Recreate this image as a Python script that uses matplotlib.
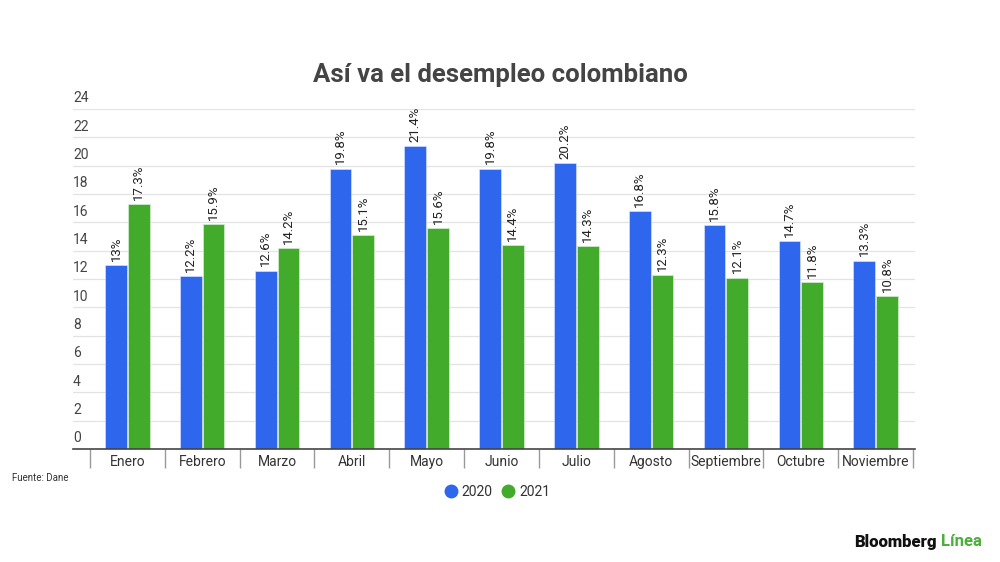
import numpy as np
import matplotlib
matplotlib.use('Agg')
import matplotlib.pyplot as plt
from matplotlib.lines import Line2D

# data
meses = ['Enero', 'Febrero', 'Marzo', 'Abril', 'Mayo', 'Junio', 'Julio',
         'Agosto', 'Septiembre', 'Octubre', 'Noviembre']
v2020 = [13.0, 12.2, 12.6, 19.8, 21.4, 19.8, 20.2, 16.8, 15.8, 14.7, 13.3]
v2021 = [17.3, 15.9, 14.2, 15.1, 15.6, 14.4, 14.3, 12.3, 12.1, 11.8, 10.8]
lab2020 = ['13%', '12.2%', '12.6%', '19.8%', '21.4%', '19.8%', '20.2%', '16.8%', '15.8%', '14.7%', '13.3%']
lab2021 = ['17.3%', '15.9%', '14.2%', '15.1%', '15.6%', '14.4%', '14.3%', '12.3%', '12.1%', '11.8%', '10.8%']
yticks = np.arange(0, 25, 2)

azul = '#2e66ee'
verde = '#43ab2c'

plt.rcParams['font.family'] = ['Roboto', 'DejaVu Sans']
fig = plt.figure(figsize=(10, 5.62), dpi=100)
ax = fig.add_axes([0.073, 1 - 449 / 562, 0.842, (449 - 109) / 562])

x = np.arange(len(meses))
w = 0.29
b1 = ax.bar(x - 0.152, v2020, width=w, color=azul, edgecolor='#dfe8ff', linewidth=0.4, zorder=3)
b2 = ax.bar(x + 0.152, v2021, width=w, color=verde, edgecolor='#e3f3df', linewidth=0.4, zorder=3)
ax.bar_label(b1, labels=lab2020, rotation=90, padding=3, fontsize=9.5, color='#222222')
ax.bar_label(b2, labels=lab2021, rotation=90, padding=3, fontsize=9.5, color='#222222')

ax.set_xlim(-0.727, 10.527)
ax.set_ylim(0, 24)

# grid
for v in yticks[1:]:
    ax.axhline(v, color='#e3e3e3', linewidth=0.9, zorder=1)
ax.set_yticks([])
for v in yticks:
    ax.text(0.0, v + 0.25, str(v), transform=ax.get_yaxis_transform(),
            ha='left', va='bottom', fontsize=10, color='#444444')

# x axis
ax.set_xticks(x)
ax.set_xticklabels(meses, fontsize=10, color='#333333')
ax.tick_params(axis='x', which='major', length=0, pad=4)
ax.set_xticks(np.arange(-0.5, 11, 1), minor=True)
ax.tick_params(axis='x', which='minor', length=14, width=1, color='#999999')

for s in ['top', 'right', 'left']:
    ax.spines[s].set_visible(False)
ax.spines['bottom'].set_color('#444444')
ax.spines['bottom'].set_linewidth(1.2)
ax.spines['bottom'].set_zorder(4)

fig.text(0.5, 1 - 75 / 562, 'Así va el desempleo colombiano', ha='center', va='center',
         fontsize=18.5, fontweight='bold', color='#444444')
fig.text(0.012, 1 - 478 / 562, 'Fuente: Dane', ha='left', va='center', fontsize=7, color='#333333')

handles = [Line2D([], [], linestyle='none', marker='o', markersize=9, color=azul),
           Line2D([], [], linestyle='none', marker='o', markersize=9, color=verde)]
fig.legend(handles, ['2020', '2021'], loc='center', bbox_to_anchor=(0.497, 1 - 492 / 562),
           ncol=2, frameon=False, fontsize=10, handlelength=1.0, handletextpad=0.3,
           columnspacing=0.6, labelcolor='#333333')

fig.text(0.937, 1 - 542 / 562, 'Bloomberg', ha='right', va='center', fontsize=12,
         fontweight='heavy', color='#111111')
fig.text(0.941, 1 - 542 / 562, 'Línea', ha='left', va='center', fontsize=12,
         fontweight='bold', color='#4caf3c')

fig.savefig('out.png', dpi=100)
